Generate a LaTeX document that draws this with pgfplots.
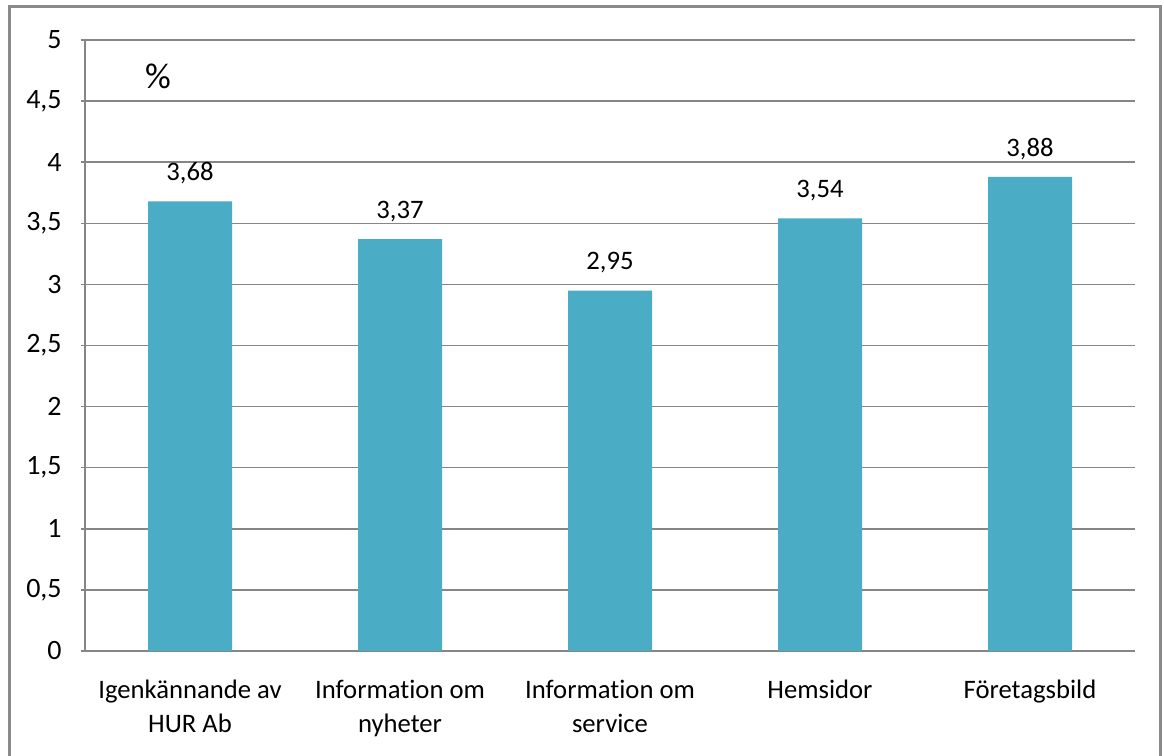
\documentclass[border=0pt]{standalone}
\usepackage{pgfplots}
\pgfplotsset{compat=1.18}
\usepackage{fontspec}
\setmainfont{Carlito}[Ligatures={NoCommon}]
\definecolor{barblue}{HTML}{4BACC6}
\definecolor{gridgray}{HTML}{868686}
\definecolor{framegray}{HTML}{8A8A8A}
\begin{document}
\begin{tikzpicture}
\useasboundingbox (0,0) rectangle (873pt,567pt);
\fill[white] (0,0) rectangle (873pt,567pt);
\draw[framegray, line width=2.25pt] (6.75pt,-10pt) -- (6.75pt,561.75pt) -- (870pt,561.75pt) -- (870pt,-10pt);
\begin{axis}[
  at={(63.75pt,78.75pt)}, anchor=south west,
  scale only axis, width=787.5pt, height=458.25pt,
  xmin=-0.5, xmax=4.5, ymin=0, ymax=5,
  ytick={0,0.5,...,5},
  xtick={0,1,2,3,4},
  xticklabels={{Igenkännande av\\HUR Ab},{Information om\\nyheter},{Information om\\service},{Hemsidor},{Företagsbild}},
  xticklabel style={align=center, font=\fontsize{20}{26}\selectfont, yshift=-12pt},
  yticklabel style={font=\fontsize{21}{24}\selectfont, xshift=-11pt},
  major x tick style={draw=none},
  extra x ticks={-0.5,0.5,1.5,2.5,3.5,4.5},
  extra x tick labels={},
  extra x tick style={grid=none, major tick length=6pt, tick style={gridgray, line width=1.1pt}},
  tick align=outside, major tick length=6pt,
  tick style={gridgray, line width=1.1pt},
  ymajorgrids, grid style={gridgray, line width=1.1pt},
  axis x line=bottom, axis y line=left,
  axis line style={-, gridgray, line width=1.1pt},
  /pgf/number format/.cd, use comma, 1000 sep={}, assume math mode=true,
  /pgfplots/.cd,
  ybar, bar width=63pt,
  nodes near coords,
  nodes near coords style={font=\fontsize{20}{24}\selectfont, anchor=center, yshift=21pt,
    /pgf/number format/.cd, fixed, fixed zerofill, precision=2, use comma, assume math mode=true},
  clip=false,
]
\addplot[fill=barblue, draw=none] coordinates {(0,3.68) (1,3.37) (2,2.95) (3,3.54) (4,3.88)};
\node[font=\fontsize{27}{30}\selectfont] at (axis cs:-0.152,4.70) {\%};
\end{axis}
\end{tikzpicture}
\end{document}
